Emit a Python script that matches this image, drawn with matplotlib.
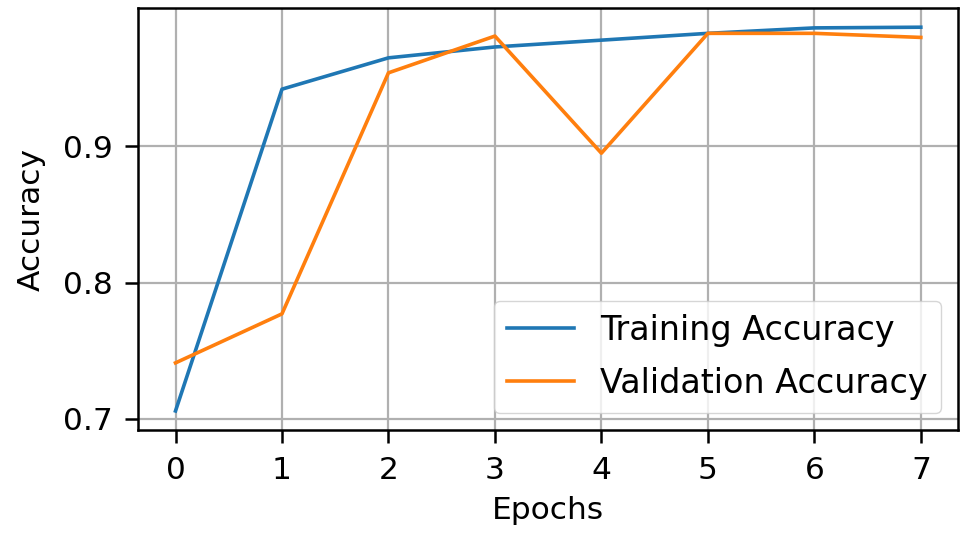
import matplotlib
matplotlib.use("Agg")
import matplotlib.pyplot as plt

epochs = [0, 1, 2, 3, 4, 5, 6, 7]
train_acc = [0.7057, 0.942, 0.965, 0.973, 0.978, 0.983, 0.987, 0.9875]
val_acc = [0.741, 0.777, 0.954, 0.981, 0.895, 0.983, 0.983, 0.980]

plt.rcParams['font.size'] = 22.5

fig = plt.figure(figsize=(9.6, 5.35), dpi=100)
ax = fig.add_axes([0.144, 0.196, 0.854, 0.789])
ax.plot(epochs, train_acc, label="Training Accuracy", linewidth=2.6)
ax.plot(epochs, val_acc, label="Validation Accuracy", linewidth=2.6)
ax.set_xlabel("Epochs", labelpad=8)
ax.set_ylabel("Accuracy", labelpad=12)
ax.set_yticks([0.7, 0.8, 0.9])
ax.grid(True, linewidth=1.6)
ax.legend(loc="lower right", fontsize=24, labelspacing=0.6)
for s in ax.spines.values():
    s.set_linewidth(1.8)
ax.tick_params(width=1.8, length=9.5, pad=9)

fig.savefig("out.png", dpi=100)
